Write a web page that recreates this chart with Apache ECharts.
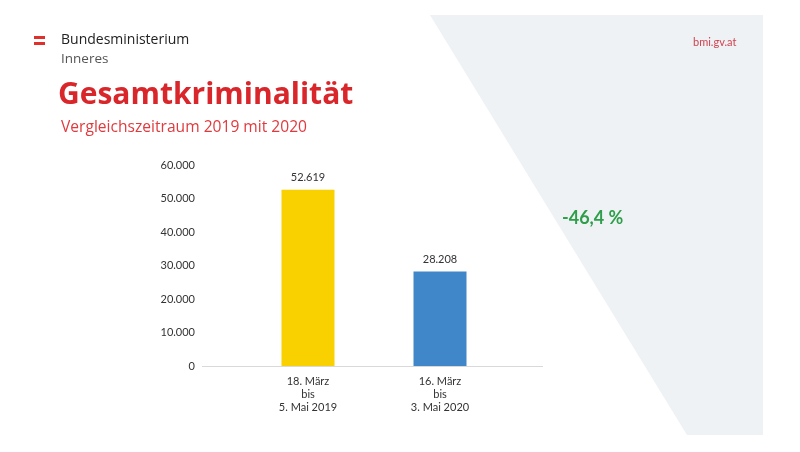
<!DOCTYPE html>
<html>
<head>
<meta charset="utf-8">
<script src="https://cdn.jsdelivr.net/npm/echarts@6/dist/echarts.min.js"></script>
<style>
html,body{margin:0;padding:0;background:#fff;}
#c{width:800px;height:452px;}
</style>
</head>
<body>
<div id="c"></div>
<script>
var categories = ['18. März\nbis\n5. Mai 2019', '16. März\nbis\n3. Mai 2020'];
var values = [52619, 28208];
var barColors = ['#f9d000', '#3f87c9'];
var yTicks = [0, 10000, 20000, 30000, 40000, 50000, 60000];
var changeLabel = '-46,4 %';

function fmt(v){ return String(v).replace(/\B(?=(\d{3})+(?!\d))/g, '.'); }

var chart = echarts.init(document.getElementById('c'));
chart.setOption({
  backgroundColor: '#ffffff',
  animation: false,
  textStyle: {fontFamily: 'Lato'},
  graphic: [
    {type:'polygon', z:-10, shape:{points:[[430,15],[763,15],[763,435],[687,435]]}, style:{fill:'#eef2f5'}},
    {type:'rect', shape:{x:34,y:36,width:11,height:3}, style:{fill:'#e0302c'}},
    {type:'rect', shape:{x:34,y:42,width:11,height:3}, style:{fill:'#e0302c'}},
    {type:'text', left:61, top:33, style:{text:'Bundesministerium', font:'500 14px "Open Sans"', fill:'#222'}},
    {type:'text', left:61, top:52, style:{text:'Inneres', font:'13.5px "Open Sans"', fill:'#555'}},
    {type:'text', left:58, top:80, style:{text:'Gesamtkriminalität', font:'bold 30px "Open Sans"', fill:'#d9262b'}},
    {type:'text', left:61, top:120, style:{text:'Vergleichszeitraum 2019 mit 2020', font:'15.6px "Open Sans"', fill:'#e03a3e'}},
    {type:'text', left:693, top:37, style:{text:'bmi.gv.at', font:'11px Lato', fill:'#d2424f'}},
    {type:'text', left:562, top:209, style:{text:changeLabel, font:'bold 18px Lato', fill:'#2e9e4a'}},
    {type:'line', shape:{x1:202,y1:366.5,x2:543,y2:366.5}, style:{stroke:'#d9d9d9', lineWidth:1}}
  ],
  grid: {left:242, width:264, top:165, bottom:86},
  xAxis: {
    type:'category', data:categories,
    axisLine:{show:false}, axisTick:{show:false},
    axisLabel:{color:'#333', fontSize:11, lineHeight:13, margin:9}
  },
  yAxis: {
    type:'value', min:yTicks[0], max:yTicks[yTicks.length-1], interval:10000,
    splitLine:{show:false}, axisLine:{show:false}, axisTick:{show:false},
    axisLabel:{color:'#333', fontSize:11, margin:47, formatter:function(v){return fmt(v);}}
  },
  series: [{
    type:'bar', barWidth:53,
    data: values.map(function(v,i){return {value:v, itemStyle:{color:barColors[i]}};}),
    label:{show:true, position:'top', distance:7, color:'#333', fontSize:11, formatter:function(p){return fmt(p.value);}}
  }]
});
</script>
</body>
</html>
